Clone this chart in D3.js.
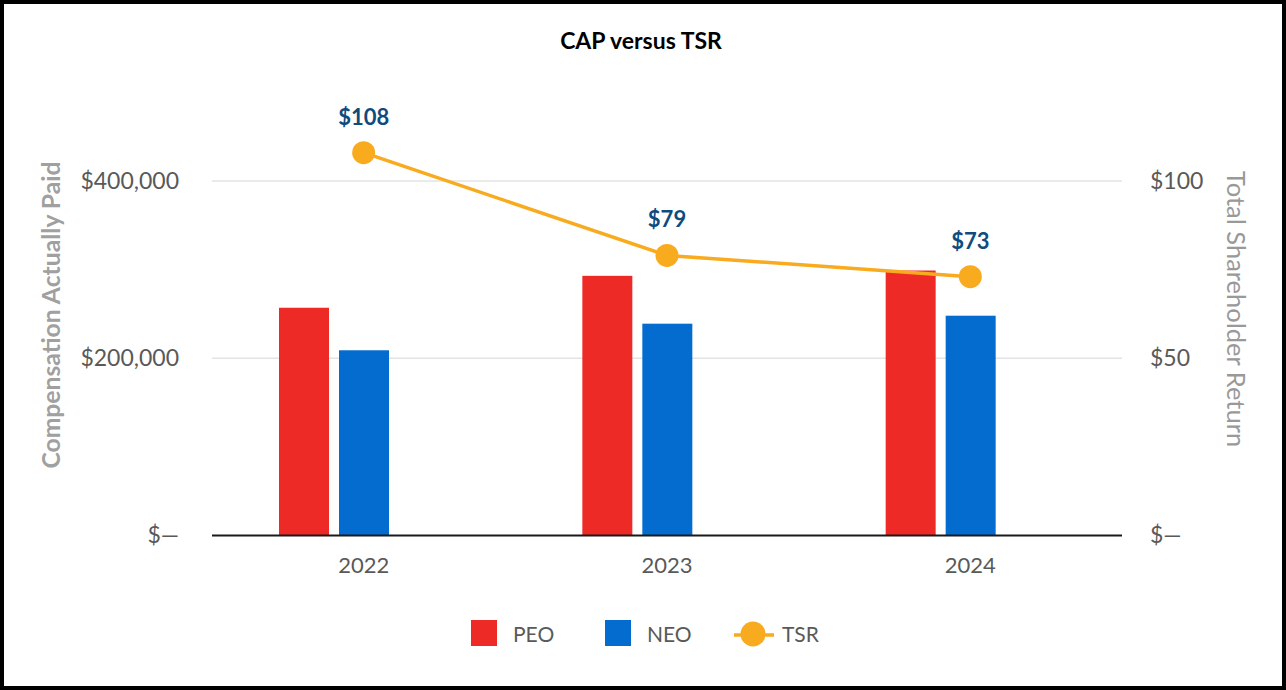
<!DOCTYPE html>
<html lang="en">
<head>
  <meta charset="UTF-8">
  <script src="https://d3js.org/d3.v7.min.js"></script>
  <title>CAP versus TSR</title>
  <style>
  body {
      margin: 0;
      background: #fff;
  }
  svg {
      display: block;
      font-family: Lato, "Open Sans", sans-serif;
  }
  .tick text {
      fill: #595959;
  }
  </style>
</head>
<body>

<svg id="chart" width="1286" height="690"></svg>

<script>
  // values
  const years = ["2022", "2023", "2024"];
  const peo = [257000, 293000, 299000];
  const neo = [209000, 239000, 248000];
  const tsr = [108, 79, 73];
  const leftTicks = [0, 200000, 400000];
  const rightTicks = [0, 50, 100];
  const seriesNames = ["PEO", "NEO", "TSR"];
  const colors = {PEO: "#ee2a27", NEO: "#036cce", TSR: "#f9ab1f"};

  const svg = d3.select("svg#chart");
  const width = +svg.attr("width");
  const height = +svg.attr("height");
  const plot = {left: 212, right: 1122, top: 181, bottom: 535.5};

  // outer frame
  svg.append("rect")
      .attr("x", 2).attr("y", 2)
      .attr("width", width - 4).attr("height", height - 4)
      .attr("fill", "#fff")
      .attr("stroke", "#000")
      .attr("stroke-width", 4);

  const xScale = d3.scaleBand().domain(years).range([plot.left, plot.right]).padding(0);
  // three slots per year, the third one stays empty (the line series)
  const xSub = d3.scaleBand().domain(seriesNames).range([67, 237]).paddingInner(1 / 6);
  const yLeft = d3.scaleLinear().domain([0, 400000]).range([plot.bottom, plot.top]);
  const yRight = d3.scaleLinear().domain([0, 100]).range([plot.bottom, plot.top]);

  // title
  svg.append("text")
      .attr("x", 641).attr("y", 49)
      .attr("text-anchor", "middle")
      .attr("font-weight", "bold")
      .attr("font-size", 23)
      .attr("fill", "#000")
      .text("CAP versus TSR");

  // gridlines
  svg.append("g").selectAll("line.grid")
      .data(leftTicks.filter(d => d > 0))
      .join("line")
      .attr("class", "grid")
      .attr("x1", plot.left).attr("x2", plot.right)
      .attr("y1", d => yLeft(d)).attr("y2", d => yLeft(d))
      .attr("stroke", "#e3e3e3")
      .attr("stroke-width", 1.5);

  // axes
  const dollarLeft = d => d === 0 ? "$\u2014" : d3.format("$,")(d);
  const dollarRight = d => d === 0 ? "$\u2014" : "$" + d;

  const leftAxis = svg.append("g")
      .attr("transform", `translate(${plot.left},0)`)
      .call(d3.axisLeft(yLeft).tickValues(leftTicks).tickFormat(dollarLeft).tickSize(0).tickPadding(33));
  leftAxis.select(".domain").remove();
  leftAxis.selectAll("text").attr("font-size", 23).attr("font-family", "Lato, sans-serif");

  const rightAxis = svg.append("g")
      .attr("transform", `translate(${plot.right},0)`)
      .call(d3.axisRight(yRight).tickValues(rightTicks).tickFormat(dollarRight).tickSize(0).tickPadding(28));
  rightAxis.select(".domain").remove();
  rightAxis.selectAll("text").attr("font-size", 23).attr("font-family", "Lato, sans-serif");

  const xAxis = svg.append("g")
      .attr("transform", `translate(0,${plot.bottom})`)
      .call(d3.axisBottom(xScale).tickSize(0).tickPadding(22));
  xAxis.select(".domain").remove();
  xAxis.selectAll("text").attr("font-size", 22).attr("font-family", "Lato, sans-serif");

  // axis titles
  svg.append("text")
      .attr("transform", "translate(50,315) rotate(-90)")
      .attr("text-anchor", "middle")
      .attr("dominant-baseline", "central")
      .attr("font-weight", "bold")
      .attr("font-size", 24.7)
      .attr("fill", "#a0a0a0")
      .text("Compensation Actually Paid");

  svg.append("text")
      .attr("transform", "translate(1237,309) rotate(90)")
      .attr("text-anchor", "middle")
      .attr("dominant-baseline", "central")
      .attr("font-size", 25.5)
      .attr("fill", "#999999")
      .text("Total Shareholder Return");

  // bars
  const rows = years.map((y, i) => ({year: y, PEO: peo[i], NEO: neo[i], TSR: tsr[i]}));
  const groups = svg.append("g").selectAll("g.year")
      .data(rows)
      .join("g")
      .attr("class", "year")
      .attr("transform", d => `translate(${xScale(d.year)},0)`);

  groups.selectAll("rect")
      .data(d => ["PEO", "NEO"].map(k => ({key: k, value: d[k]})))
      .join("rect")
      .attr("x", d => xSub(d.key))
      .attr("width", xSub.bandwidth())
      .attr("y", d => yLeft(d.value))
      .attr("height", d => yLeft(0) - yLeft(d.value))
      .attr("fill", d => colors[d.key]);

  // baseline
  svg.append("line")
      .attr("x1", plot.left).attr("x2", plot.right)
      .attr("y1", yLeft(0)).attr("y2", yLeft(0))
      .attr("stroke", "#1a1a1a")
      .attr("stroke-width", 2);

  // TSR line
  const cx = d => xScale(d.year) + xScale.bandwidth() / 2;
  const line = d3.line().x(cx).y(d => yRight(d.TSR));

  svg.append("path")
      .datum(rows)
      .attr("d", line)
      .attr("fill", "none")
      .attr("stroke", colors.TSR)
      .attr("stroke-width", 3.5);

  svg.append("g").selectAll("circle")
      .data(rows)
      .join("circle")
      .attr("cx", cx)
      .attr("cy", d => yRight(d.TSR))
      .attr("r", 11.5)
      .attr("fill", colors.TSR);

  svg.append("g").selectAll("text")
      .data(rows)
      .join("text")
      .attr("x", cx)
      .attr("y", d => yRight(d.TSR) - 28)
      .attr("text-anchor", "middle")
      .attr("font-weight", "bold")
      .attr("font-size", 22)
      .attr("fill", "#0e4c7f")
      .text(d => "$" + d.TSR);

  // legend
  const legendX = {PEO: 471, NEO: 605, TSR: 734};
  const legend = svg.append("g").selectAll("g.legend")
      .data(seriesNames)
      .join("g")
      .attr("class", "legend")
      .attr("transform", d => `translate(${legendX[d]},620)`);

  legend.filter(d => d !== "TSR").append("rect")
      .attr("width", 26).attr("height", 26)
      .attr("fill", d => colors[d]);

  const tsrKey = legend.filter(d => d === "TSR");
  tsrKey.append("line")
      .attr("x1", 0).attr("x2", 40)
      .attr("y1", 15).attr("y2", 15)
      .attr("stroke", colors.TSR)
      .attr("stroke-width", 3.5);
  tsrKey.append("circle")
      .attr("cx", 19).attr("cy", 14)
      .attr("r", 12.5)
      .attr("fill", colors.TSR);

  legend.append("text")
      .attr("x", d => d === "TSR" ? 48 : 42)
      .attr("y", 22)
      .attr("font-size", 21)
      .attr("fill", "#595959")
      .text(d => d);
</script>

</body>
</html>
